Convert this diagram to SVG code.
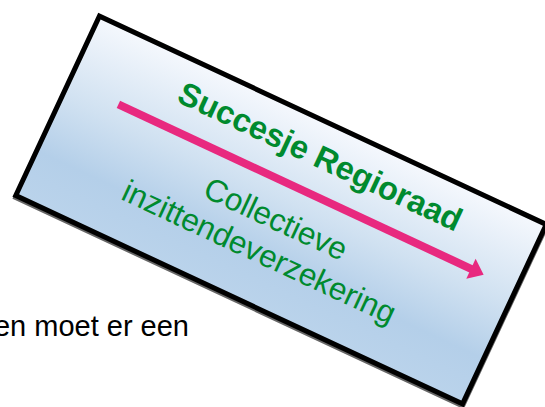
<svg xmlns="http://www.w3.org/2000/svg" width="545" height="407" viewBox="0 0 545 407">
  <defs>
    <linearGradient id="boxFill" x1="0" y1="0" x2="0" y2="1">
      <stop offset="0" stop-color="#f5f8fd"/>
      <stop offset="0.45" stop-color="#d0e1f1"/>
      <stop offset="0.75" stop-color="#b4cfe9"/>
      <stop offset="1" stop-color="#bad3eb"/>
    </linearGradient>
  </defs>
  <style>
    .title { font-family: "Liberation Sans", Arial, sans-serif; font-weight: bold; font-size: 32.5px; fill: #008a2e; }
    .sub { font-family: "Liberation Sans", Arial, sans-serif; font-size: 31.5px; fill: #008a2e; }
    .body { font-family: "Liberation Sans", Arial, sans-serif; font-size: 29px; fill: #000000; }
    .arrow { fill: #e8297f; }
  </style>
  <rect width="545" height="407" fill="#ffffff"/>
  <g id="body-text">
    <text class="body" x="189" y="336" text-anchor="end">en moet er een</text>
  </g>
  <g id="card">
    <g transform="translate(281 212) rotate(25)">
      <rect x="-246.5" y="-99" width="493" height="198" fill="none" stroke="#000000" stroke-opacity="0.6" stroke-width="5"/>
    </g>
    <g transform="translate(281 210) rotate(25)">
      <rect x="-246.5" y="-99" width="493" height="198" fill="url(#boxFill)" stroke="#000000" stroke-width="5" stroke-linejoin="miter"/>
      <g id="connectors">
        <rect class="arrow" x="-192" y="-31" width="392" height="8"/>
        <polygon class="arrow" points="197,-38 211,-27 197,-16"/>
      </g>
      <text class="title" x="13" y="-54" text-anchor="middle">Succesje Regioraad</text>
      <text class="sub" x="-1" y="21" text-anchor="middle">Collectieve</text>
      <text class="sub" x="-2" y="58" text-anchor="middle">inzittendeverzekering</text>
    </g>
  </g>
</svg>
